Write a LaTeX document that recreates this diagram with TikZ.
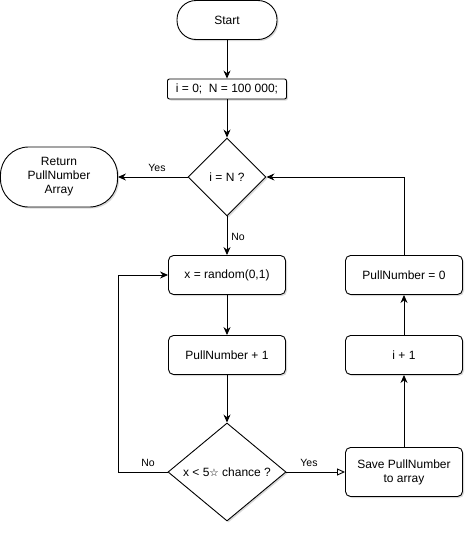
\documentclass[tikz,border=0pt]{standalone}
\usepackage{fontspec}
\setmainfont{Liberation Sans}
\newfontfamily\symfont{DejaVu Sans}
\usetikzlibrary{arrows.meta,shapes.geometric,shadows}
\begin{document}
\begin{tikzpicture}[x=1pt,y=-1pt,
  base/.style={draw=black,line width=0.9pt,fill=white,font=\fontsize{12}{14}\selectfont,align=center,inner sep=0pt,
    drop shadow={shadow xshift=1.5pt,shadow yshift=-1.5pt,opacity=0.3}},
  proc/.style={base,rectangle,rounded corners=5pt,minimum width=117pt,minimum height=39pt},
  term/.style={base,rectangle,rounded corners=#1},
  dec/.style={base,diamond,aspect=1},
  arr/.style={line width=0.9pt,-{Stealth[length=8pt,width=7pt]}},
  oarr/.style={line width=0.9pt,-{Triangle[open,length=8pt,width=7pt]}},
  lbl/.style={fill=white,inner sep=1pt,font=\fontsize{10.5}{12}\selectfont}]
\useasboundingbox (0,0) rectangle (474,533);
\node[term=19pt,minimum width=100pt,minimum height=39pt] (start) at (227,20) {Start};
\node[base,rectangle,rounded corners=2pt,minimum width=119pt,minimum height=20pt] (init) at (227,89) {i = 0;\ \ N = 100 000;};
\node[dec,minimum width=78pt,minimum height=78pt] (d1) at (227,177) {i = N ?};
\node[term=28pt,minimum width=117pt,minimum height=60pt] (ret) at (59,177) {Return\\PullNumber\\Array};
\node[proc] (xr) at (227,275) {x = random(0,1)};
\node[proc] (pn1) at (227,355) {PullNumber + 1};
\node[dec,minimum width=118pt,minimum height=98pt] (d2) at (227,472) {x < 5{\symfont\fontsize{10.5}{12}\selectfont ☆} chance ?};
\node[proc,minimum height=49pt] (save) at (404,472) {Save PullNumber\\to array};
\node[proc] (inc) at (404,355) {i + 1};
\node[proc] (pn0) at (404,275) {PullNumber = 0};
\coordinate (lx) at (118,472);
\draw[arr] (start) -- (init);
\draw[arr] (init) -- (d1);
\draw[arr] (d1) -- (ret);
\node[lbl] (yes1) at (157,168) {Yes};
\draw[arr] (d1) -- (xr);
\node[lbl] (no1) at (238,237) {No};
\draw[arr] (xr) -- (pn1);
\draw[arr] (pn1) -- (d2);
\draw[oarr] (d2) -- (save);
\node[lbl] (yes2) at (309,463) {Yes};
\draw[arr] (d2.west) -- (lx) |- (xr.west);
\node[lbl] (no2) at (148,463) {No};
\draw[arr] (save) -- (inc);
\draw[arr] (inc) -- (pn0);
\draw[arr] (pn0.north) |- (d1.east);
\end{tikzpicture}
\end{document}
